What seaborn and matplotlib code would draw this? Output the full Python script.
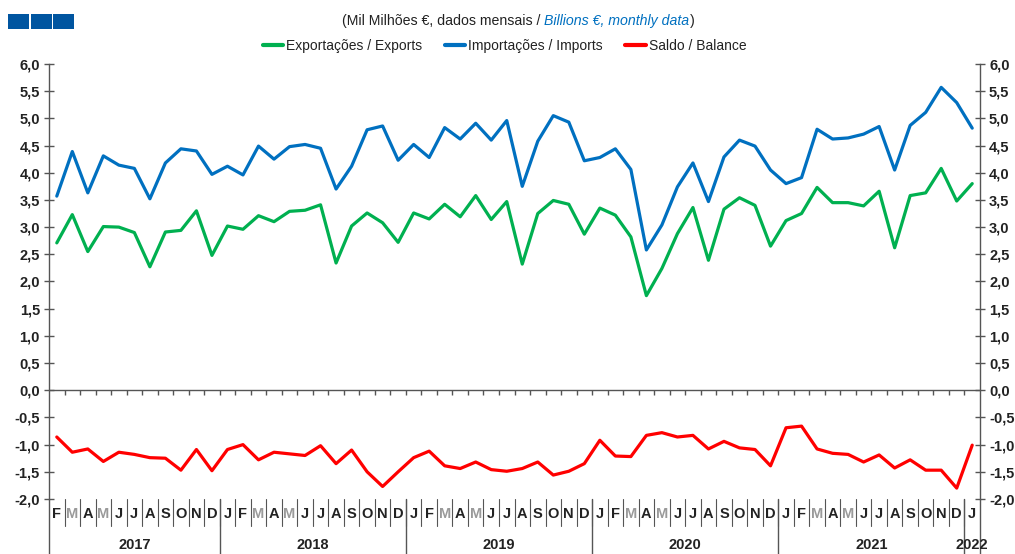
import numpy as np
import pandas as pd
import matplotlib
matplotlib.use("Agg")
import matplotlib.pyplot as plt
import seaborn as sns
from matplotlib.patches import Rectangle
from matplotlib.ticker import FuncFormatter

# monthly data, Feb 2017 .. Jan 2022 (Mil Milhões € / Billions €)
month_letters = ['J', 'F', 'M', 'A', 'M', 'J', 'J', 'A', 'S', 'O', 'N', 'D']
years = ['2017', '2018', '2019', '2020', '2021', '2022']

exports = [2.71, 3.23, 2.55, 3.01, 3.00, 2.90, 2.27, 2.91, 2.94, 3.30, 2.48,
           3.02, 2.96, 3.21, 3.10, 3.29, 3.31, 3.41, 2.34, 3.02, 3.26, 3.08, 2.72,
           3.26, 3.15, 3.42, 3.19, 3.58, 3.14, 3.47, 2.32, 3.25, 3.49, 3.42, 2.87,
           3.35, 3.22, 2.82, 1.74, 2.24, 2.88, 3.36, 2.39, 3.33, 3.54, 3.40, 2.65,
           3.12, 3.25, 3.73, 3.45, 3.45, 3.39, 3.66, 2.62, 3.58, 3.63, 4.08, 3.48,
           3.80]
imports = [3.57, 4.39, 3.63, 4.31, 4.14, 4.08, 3.52, 4.18, 4.44, 4.40, 3.97,
           4.12, 3.96, 4.49, 4.25, 4.48, 4.52, 4.45, 3.70, 4.12, 4.79, 4.86, 4.23,
           4.52, 4.28, 4.83, 4.62, 4.91, 4.60, 4.96, 3.75, 4.58, 5.05, 4.93, 4.22,
           4.28, 4.44, 4.06, 2.58, 3.04, 3.74, 4.18, 3.47, 4.29, 4.60, 4.49, 4.05,
           3.80, 3.91, 4.80, 4.62, 4.64, 4.71, 4.85, 4.05, 4.87, 5.11, 5.57, 5.29,
           4.82]
balance = [-0.86, -1.14, -1.08, -1.31, -1.14, -1.18, -1.24, -1.25, -1.47, -1.09, -1.48,
           -1.09, -1.00, -1.28, -1.14, -1.17, -1.20, -1.02, -1.35, -1.10, -1.50, -1.77, -1.50,
           -1.24, -1.12, -1.39, -1.44, -1.32, -1.46, -1.49, -1.44, -1.32, -1.56, -1.49, -1.35,
           -0.92, -1.21, -1.22, -0.83, -0.78, -0.86, -0.83, -1.08, -0.94, -1.06, -1.09, -1.39,
           -0.69, -0.66, -1.08, -1.16, -1.18, -1.32, -1.19, -1.43, -1.28, -1.47, -1.47, -1.80,
           -1.01]

series_names = ['Exportações / Exports', 'Importações / Imports', 'Saldo / Balance']
colors = ['#00B050', '#0070C0', '#FF0000']

dates = pd.date_range('2017-02-01', periods=len(exports), freq='MS')
n = len(dates)
idx = np.arange(n)

df = pd.concat([
    pd.DataFrame({'i': idx, 'value': vals, 'serie': name})
    for name, vals in zip(series_names, [exports, imports, balance])
])

sns.set_style('white')
plt.rcParams['font.family'] = ['Liberation Sans', 'DejaVu Sans']

fig = plt.figure(figsize=(10.15, 5.54), dpi=100)
ax = fig.add_axes([0.0483, 0.0993, 0.9172, 0.7852])

sns.lineplot(data=df, x='i', y='value', hue='serie', palette=colors,
             hue_order=series_names, linewidth=2.3, ax=ax, legend=True)

ax.set_xlim(-0.5, n - 0.5)
ax.set_ylim(-2.0, 6.0)
ax.set_xlabel('')
ax.set_ylabel('')

gray = '#555555'
text_col = '#222222'
for s in ['top', 'bottom']:
    ax.spines[s].set_visible(False)
for s in ['left', 'right']:
    ax.spines[s].set_color(gray)
    ax.spines[s].set_linewidth(1.0)

ax.set_yticks(np.arange(-2.0, 6.01, 0.5))
ax.yaxis.set_major_formatter(FuncFormatter(lambda v, p: f"{v:.1f}".replace('.', ',')))
ax.tick_params(axis='y', left=True, right=True, labelleft=True, labelright=True,
               direction='inout', length=7, width=1, color=gray,
               labelsize=10.5, labelcolor=text_col, pad=3)
for lab in ax.get_yticklabels():
    lab.set_fontweight('bold')

# zero line with month ticks below it
ax.axhline(0, color=gray, lw=1.0)
ax.vlines(idx[:-1] + 0.5, -0.08, 0, color=gray, lw=1.0)

# month letters
ax.set_xticks(idx)
labels = [month_letters[d.month - 1] for d in dates]
ax.set_xticklabels(labels, fontsize=10.5, fontweight='bold')
ax.tick_params(axis='x', length=0, pad=6, labelcolor=text_col)
for lab, d in zip(ax.get_xticklabels(), dates):
    if d.month in (3, 5):
        lab.set_color('#9a9a9a')

trans = ax.get_xaxis_transform()
# month separators
for b in idx[:-1] + 0.5:
    ax.plot([b, b], [0, -0.062], transform=trans, color=gray, lw=0.8, clip_on=False)
# year separators and outer lines
year_of = np.array([d.year for d in dates])
bounds = [-0.5] + [i - 0.5 for i in idx[1:] if year_of[i] != year_of[i - 1]] + [n - 0.5]
for b in bounds:
    ax.plot([b, b], [0, -0.135], transform=trans, color=gray, lw=1.0, clip_on=False)
for y in years:
    pos = idx[year_of == int(y)].mean()
    ax.text(pos, -0.106, y, transform=trans, ha='center', va='center',
            fontsize=10.5, fontweight='bold', color=text_col)

# legend at top
handles, labs = ax.get_legend_handles_labels()
ax.legend_.remove()
for h in handles:
    h.set_linewidth(3.0)
fig.legend(handles, labs, loc='center', bbox_to_anchor=(0.497, 0.917), ncol=3,
           frameon=False, fontsize=10, handlelength=1.5, handletextpad=0.2,
           columnspacing=1.6, labelcolor=text_col)

# subtitle in two styles
t1 = fig.text(0.337, 0.962, '(Mil Milhões €, dados mensais / ', fontsize=10.2,
              color=text_col, va='center', ha='left')
t2 = ax.annotate('Billions €, monthly data', xy=(1, 0), xycoords=t1, va='bottom',
                 ha='left', fontsize=10.2, style='italic', color='#0070C0')
ax.annotate(')', xy=(1, 0), xycoords=t2, va='bottom', ha='left', fontsize=10.2,
            color=text_col)

# logo squares
for k in range(3):
    fig.patches.append(Rectangle((8 / 1015 + k * 22.5 / 1015, 1 - 29 / 554), 21 / 1015, 15 / 554,
                                 transform=fig.transFigure, facecolor='#0055A0',
                                 edgecolor='none'))

fig.savefig('out.png', dpi=100)
